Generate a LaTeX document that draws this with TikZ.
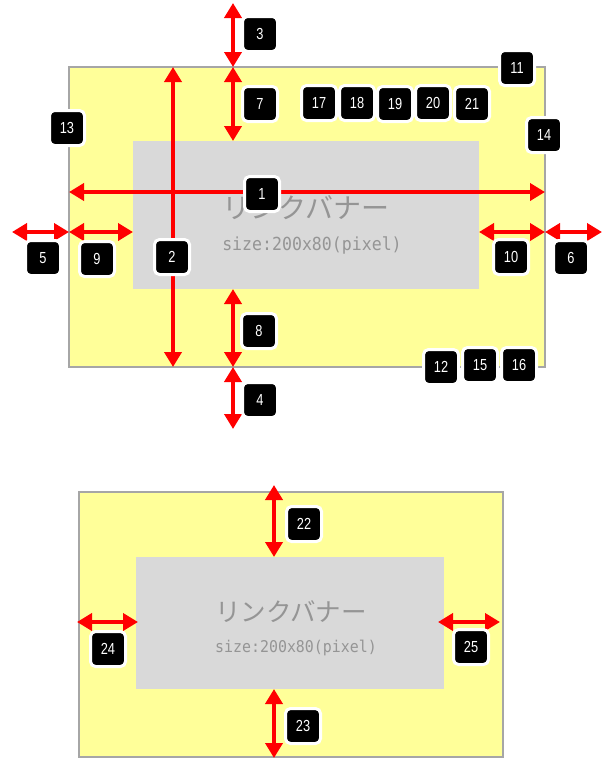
\documentclass[tikz,border=0pt]{standalone}
\usepackage{fontspec}
\newfontfamily\jpfont{Noto Sans CJK JP}
\newfontfamily\monofont[FakeStretch=0.92]{DejaVu Sans Mono}
\newfontfamily\tagfont[FakeStretch=0.8]{Liberation Sans}
\usetikzlibrary{arrows.meta}
\definecolor{yel}{HTML}{FFFF99}
\definecolor{bord}{HTML}{A6A6A6}
\definecolor{gry}{HTML}{D9D9D9}
\definecolor{txtgray}{HTML}{959595}
\begin{document}
\begin{tikzpicture}[x=1pt,y=-1pt,
 dim/.style={draw=red, line width=4pt, {Triangle[width=17pt,length=15pt]}-{Triangle[width=17pt,length=15pt]}},
 tag/.style={fill=black, draw=white, line width=3pt, rounded corners=5pt, minimum size=35pt, inner sep=0pt, text=white, font=\tagfont\fontsize{16}{16}\selectfont},
 outerbox/.style={fill=yel, draw=bord, line width=1.5pt},
 innerbox/.style={fill=gry, draw=none},
 jptxt/.style={text=txtgray, inner sep=0pt},
]
\useasboundingbox (0,0) rectangle (609,758);
% ---------- top diagram ----------
\draw[outerbox] (69,67) rectangle (545,367);
\fill[innerbox] (133,141) rectangle (479,289);
\node[jptxt, font=\jpfont\fontsize{28}{28}\selectfont] (t1) at (306,208) {リンクバナー};
\node[jptxt, font=\monofont\fontsize{18}{18}\selectfont] (s1) at (312,245) {size:200x80(pixel)};

\coordinate (L) at (69,192); \coordinate (R) at (545,192);
\coordinate (T2) at (173,67); \coordinate (B2) at (173,367);
\coordinate (A3) at (233,3); \coordinate (A37) at (233,67); \coordinate (A7) at (233,141);
\coordinate (A8) at (233,289); \coordinate (A84) at (233,367); \coordinate (A4) at (233,429);
\coordinate (A5) at (12,232); \coordinate (A59) at (69,232); \coordinate (A9) at (133,232);
\coordinate (A10) at (479,232); \coordinate (A106) at (545,232); \coordinate (A6) at (602,232);

\draw[dim] (L) -- (R);
\draw[dim] (T2) -- (B2);
\draw[dim] (A3) -- (A37);
\draw[dim] (A37) -- (A7);
\draw[dim] (A8) -- (A84);
\draw[dim] (A84) -- (A4);
\draw[dim] (A5) -- (A59);
\draw[dim] (A59) -- (A9);
\draw[dim] (A10) -- (A106);
\draw[dim] (A106) -- (A6);

\node[tag] (n1) at (262,194) {1};
\node[tag] (n2) at (172,257) {2};
\node[tag] (n3) at (260,34) {3};
\node[tag] (n4) at (260,400) {4};
\node[tag] (n5) at (43,258) {5};
\node[tag] (n6) at (571,258) {6};
\node[tag] (n7) at (260,104) {7};
\node[tag] (n8) at (259,331) {8};
\node[tag] (n9) at (97,259) {9};
\node[tag] (n10) at (511,257) {10};
\node[tag] (n11) at (517,68) {11};
\node[tag] (n12) at (441,367) {12};
\node[tag] (n13) at (67,128) {13};
\node[tag] (n14) at (544,135) {14};
\node[tag] (n15) at (480,365) {15};
\node[tag] (n16) at (519,365) {16};
\node[tag] (n17) at (319,103) {17};
\node[tag] (n18) at (357,103) {18};
\node[tag] (n19) at (395,104) {19};
\node[tag] (n20) at (433,103) {20};
\node[tag] (n21) at (472,104) {21};

% ---------- bottom diagram ----------
\draw[outerbox] (79,492) rectangle (503,757);
\fill[innerbox] (136,557) rectangle (444,689);
\node[jptxt, font=\jpfont\fontsize{25.5}{26}\selectfont] (t2) at (291,612) {リンクバナー};
\node[jptxt, font=\monofont\fontsize{16.2}{16}\selectfont] (s2) at (296,648) {size:200x80(pixel)};

\coordinate (B22a) at (274,485); \coordinate (B22b) at (274,557);
\coordinate (B23a) at (274,689); \coordinate (B23b) at (274,758);
\coordinate (B24a) at (77,622); \coordinate (B24b) at (138,622);
\coordinate (B25a) at (438,622); \coordinate (B25b) at (500,622);
\draw[dim] (B22a) -- (B22b);
\draw[dim] (B23a) -- (B23b);
\draw[dim] (B24a) -- (B24b);
\draw[dim] (B25a) -- (B25b);

\node[tag] (n22) at (304,524) {22};
\node[tag] (n23) at (303,726) {23};
\node[tag] (n24) at (108,649) {24};
\node[tag] (n25) at (471,647) {25};
\end{tikzpicture}
\end{document}
